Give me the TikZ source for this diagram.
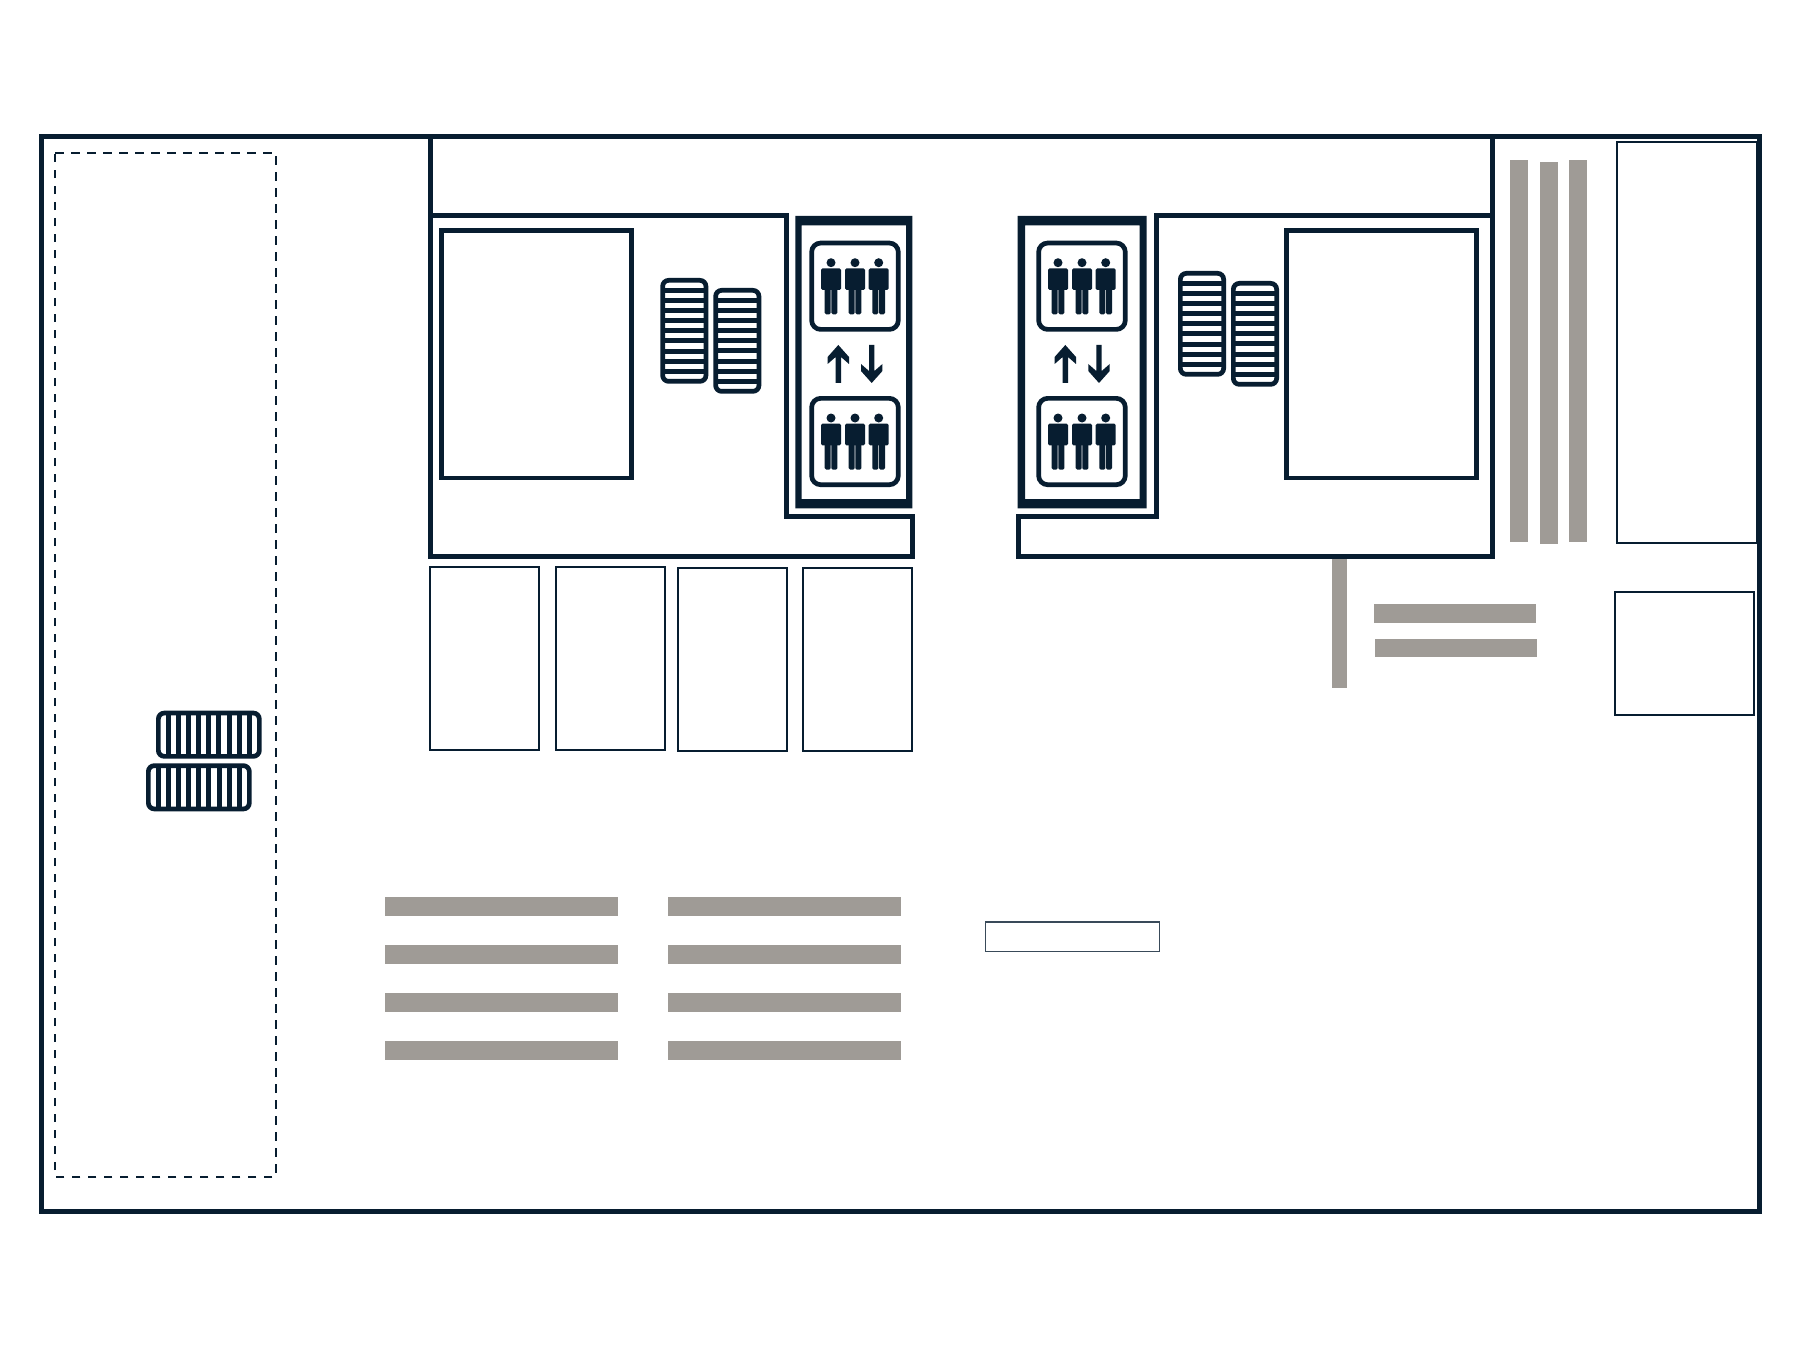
\documentclass[tikz,border=0pt]{standalone}
\definecolor{navy}{HTML}{071D30}
\definecolor{stone}{HTML}{9F9B96}
\tikzset{
  wall/.style={draw=navy,line width=5pt,line join=miter},
  roombox/.style={draw=navy,line width=4.9pt},
  thinbox/.style={draw=navy,line width=2pt},
  hairbox/.style={draw=navy!80,line width=1.4pt},
  dashbox/.style={draw=navy,line width=1.7pt,dash pattern=on 8.5pt off 7.5pt},
  greybar/.style={fill=stone,draw=none},
  stairframe/.style={draw=navy,line width=4.7pt,rounded corners=6pt},
  rung/.style={draw=navy,line width=5pt},
  carframe/.style={draw=navy,line width=4.7pt,rounded corners=9pt}
}
\newcommand{\vstair}[2]{%
  \foreach \i in {1,...,9}{\draw[rung] ({#1+2},{#2+2.35+\i*10.1}) -- ({#1+46},{#2+2.35+\i*10.1});}
  \draw[stairframe] ({#1+2.35},{#2+2.35}) rectangle ({#1+45.65},{#2+103.35});}
\newcommand{\hstair}[2]{%
  \foreach \i in {1,...,9}{\draw[rung] ({#1+2.35+\i*10.1},{#2+2}) -- ({#1+2.35+\i*10.1},{#2+46});}
  \draw[stairframe] ({#1+2.35},{#2+2.35}) rectangle ({#1+103.35},{#2+45.65});}
\newcommand{\liftperson}[2]{%
  \begin{scope}[shift={(#1,#2)}]
    \fill[navy] (0,0) circle (4.5);
    \fill[navy,rounded corners=1.5pt] (-10,5.7) rectangle (10,27.3);
    \fill[navy,rounded corners=1.5pt] (-6.3,20) rectangle (-0.4,51.7);
    \fill[navy,rounded corners=1.5pt] (0.4,20) rectangle (6.3,51.7);
  \end{scope}}
\newcommand{\liftcar}[2]{%
  \draw[carframe] ({#1+2.35},{#2+2.35}) rectangle ({#1+89},{#2+88.7});
  \liftperson{#1+21.7}{#2+22}\liftperson{#1+45.7}{#2+22}\liftperson{#1+69.4}{#2+22}}
\newcommand{\liftup}[1]{%
  \fill[navy] (#1,345) -- ({#1+10.7},357) -- ({#1+10.7},364) -- ({#1+2.7},357) -- ({#1+2.7},383)
    -- ({#1-2.7},383) -- ({#1-2.7},357) -- ({#1-10.7},364) -- ({#1-10.7},357) -- cycle;}
\newcommand{\liftdown}[1]{%
  \fill[navy] (#1,383) -- ({#1+10.7},371) -- ({#1+10.7},364) -- ({#1+2.7},371) -- ({#1+2.7},345)
    -- ({#1-2.7},345) -- ({#1-2.7},371) -- ({#1-10.7},364) -- ({#1-10.7},371) -- cycle;}
\begin{document}
\begin{tikzpicture}[x=1pt,y=-1pt]
\useasboundingbox (0,0) rectangle (1800,1364);
\fill[white] (0,0) rectangle (1800,1364);
% outer wall
\draw[wall] (41.3,136.8) rectangle (1759.2,1211);
% dashed zone
\draw[dashbox] (55,153.3) -- (276,153.3) -- (276,1176.7) -- (55,1176.7) -- cycle;
% grey vertical bars, upper right
\fill[greybar] (1510.3,160) rectangle (1527.7,541.7);
\fill[greybar] (1539.7,162.3) rectangle (1557.7,544);
\fill[greybar] (1569,160) rectangle (1587,541.7);
% grey bars near the wing
\fill[greybar] (1332.3,558) rectangle (1347,688);
\fill[greybar] (1373.6,604) rectangle (1536,622.7);
\fill[greybar] (1374.6,639) rectangle (1537,657.3);
% grey bars, lower
\foreach \yy in {897,945,993,1041}{
  \fill[greybar] (384.6,\yy) rectangle (618.2,\yy+19);
  \fill[greybar] (667.6,\yy) rectangle (901,\yy+19);
}
% wings
\draw[wall] (430.5,136.8) -- (430.5,556) -- (912,556) -- (912,516) -- (786,516) -- (786,216) -- (430.5,216);
\draw[wall] (1492.3,136.8) -- (1492.3,556) -- (1018.7,556) -- (1018.7,516) -- (1156.5,516) -- (1156.5,216) -- (1492.3,216);
% big rooms
\draw[roombox] (441.4,230.7) rectangle (631.4,478);
\draw[roombox] (1286.7,230.7) rectangle (1476.7,478);
% thin rooms below
\draw[thinbox] (430.2,566.6) rectangle (539.4,749.8);
\draw[thinbox] (555.9,566.6) rectangle (665.1,749.8);
\draw[thinbox] (677.6,567.9) rectangle (786.8,751.1);
\draw[thinbox] (802.9,567.9) rectangle (912.1,751.1);
% thin rooms at right
\draw[thinbox] (1616.5,142.5) rectangle (1756.8,543);
\draw[thinbox] (1615.3,592) rectangle (1754.2,714.5);
% small box
\draw[hairbox] (985.5,922) rectangle (1159.5,951.5);
% lift shafts
\fill[navy,even odd rule] (795.3,216) rectangle (912.3,508.3) (801.7,225.3) rectangle (906,499);
\fill[navy,even odd rule] (1017.7,216) rectangle (1146.7,508.3) (1025,225.3) rectangle (1139.7,499);
\liftcar{809.3}{240.7}
\liftcar{809.3}{396}
\liftcar{1036.3}{240.7}
\liftcar{1036.3}{396}
\liftup{838.3}\liftdown{871.7}
\liftup{1065.3}\liftdown{1099}
% stairs
\vstair{660.3}{278}
\vstair{713.3}{288}
\vstair{1178}{271}
\vstair{1231}{281}
\hstair{156}{710.7}
\hstair{146}{763.3}
\end{tikzpicture}
\end{document}
